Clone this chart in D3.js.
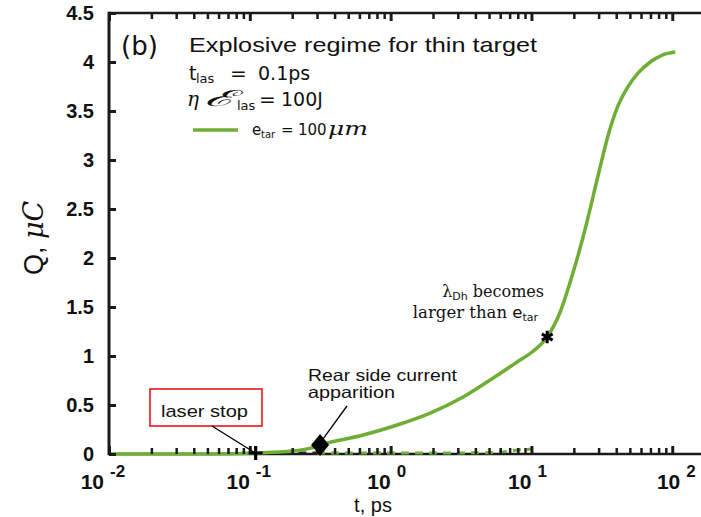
<!DOCTYPE html>
<html>
<head>
<meta charset="utf-8">
<script src="https://cdn.jsdelivr.net/npm/d3@7"></script>
<style>
  html, body { margin: 0; padding: 0; background: #fff; }
  svg { display: block; }
  text { font-family: "Liberation Sans", Arial, sans-serif; fill: #111; }
</style>
</head>
<body>
<svg id="chart" width="701" height="517"></svg>
<script>
// Collected charge Q (µC) versus time t (ps), thin target, explosive regime
const timePs = [0.01, 0.05, 0.11, 0.2, 0.27, 0.3155, 0.6375, 1.112, 1.909, 3.273, 5.09, 7.92, 10.1, 12.94, 16.0, 19.81, 24.49, 29.8, 35.1, 40.6, 47.9, 57.3, 69.8, 84.9, 105];
const chargeUC = [0.0, 0.0, 0.01, 0.03, 0.06, 0.092, 0.194, 0.296, 0.418, 0.582, 0.755, 0.939, 1.041, 1.194, 1.449, 1.857, 2.337, 2.847, 3.255, 3.531, 3.735, 3.888, 4.0, 4.071, 4.102];

// thick-target reference traces lying close to the axis
const flatTime = [0.3, 0.6, 1.0, 2.0, 4.0, 6.0, 8.0, 10.0];
const flatCharge = [0.01, 0.01, 0.01, 0.01, 0.012, 0.02, 0.04, 0.05];
const earlyTime = [0.14, 0.3];
const earlyCharge = [0.01, 0.01];

// annotated events
const laserStop = { t: 0.11, q: 0.01 };
const rearCurrent = { t: 0.3155, q: 0.092 };
const debyeEvent = { t: 12.94, q: 1.194 };

const yTicks = [0, 0.5, 1, 1.5, 2, 2.5, 3, 3.5, 4, 4.5];
const yTickLabels = ["0", "0.5", "1", "1.5", "2", "2.5", "3", "3.5", "4", "4.5"];
const xMajor = [0.01, 0.1, 1, 10, 100];
const xExponents = ["-2", "-1", "0", "1", "2"];

const green = "#6fae35";
const axisColor = "#1a1a1a";
const svg = d3.select("#chart");

const x = d3.scaleLog().domain([0.01, 160]).range([109, 701]);
const y = d3.scaleLinear().domain([0, 4.5]).range([454, 13]);

// minor ticks for each decade
const xMinor = [];
for (let e = -2; e <= 2; e++) {
  for (let m = 2; m <= 9; m++) {
    const v = m * Math.pow(10, e);
    if (v < 160) xMinor.push(v);
  }
}

// frame: left, bottom, top
svg.append("line").attr("x1", x(0.01)).attr("x2", 701).attr("y1", y(0)).attr("y2", y(0))
  .attr("stroke", axisColor).attr("stroke-width", 2.5);
svg.append("line").attr("x1", x(0.01)).attr("x2", 701).attr("y1", y(4.5)).attr("y2", y(4.5))
  .attr("stroke", axisColor).attr("stroke-width", 2.5);
svg.append("line").attr("x1", x(0.01)).attr("x2", x(0.01)).attr("y1", y(4.5) - 1.2).attr("y2", y(0) + 1.2)
  .attr("stroke", axisColor).attr("stroke-width", 3);

// y tick labels
svg.append("g").selectAll("text").data(yTicks).join("text")
  .attr("x", 94).attr("y", d => y(d) + 7)
  .attr("text-anchor", "end")
  .style("font-size", "20px").style("font-weight", "bold")
  .text((d, i) => yTickLabels[i]);

// x tick labels: 10 with raised exponent
const xl = svg.append("g");
xMajor.forEach((v, i) => {
  const px = x(v) + (i === 4 ? 8 : i === 0 ? -5 : 0);
  xl.append("text").attr("x", px).attr("y", 489).attr("text-anchor", "end")
    .style("font-size", "21px").style("font-weight", "bold").text("10");
  xl.append("text").attr("x", px + 6).attr("y", 477).attr("text-anchor", "start")
    .style("font-size", "17px").style("font-weight", "bold").text(xExponents[i]);
});

// axis titles
svg.append("text").attr("x", 373).attr("y", 512).attr("text-anchor", "middle")
  .style("font-size", "20px").text("t, ps");
const yTitle = svg.append("text").attr("transform", "translate(43,238) rotate(-90)")
  .attr("text-anchor", "middle").style("font-size", "27px");
yTitle.append("tspan").text("Q, ");
yTitle.append("tspan").style("font-style", "italic").style("font-family", "'DejaVu Serif', serif").text("μC");

// curves
const line = d3.line().x(d => x(d[0])).y(d => y(d[1])).curve(d3.curveMonotoneX);

svg.append("path").datum(flatTime.map((t, i) => [t, flatCharge[i]]))
  .attr("d", line).attr("fill", "none").attr("stroke", green).attr("stroke-width", 3)
  .attr("stroke-dasharray", "8,6");
svg.append("path").datum(earlyTime.map((t, i) => [t, earlyCharge[i]]))
  .attr("d", line).attr("fill", "none").attr("stroke", "#222").attr("stroke-width", 3)
  .attr("stroke-dasharray", "8,6");

svg.append("path").datum(timePs.map((t, i) => [t, chargeUC[i]]))
  .attr("d", line).attr("fill", "none").attr("stroke", green).attr("stroke-width", 3.5)
  .attr("stroke-linejoin", "round");

// inward tick marks drawn with d3 axes, no labels, no domain path
function drawTicks(axisFn, scale, values, size, width, transform) {
  const g = svg.append("g").attr("transform", transform)
    .call(axisFn(scale).tickValues(values).tickSizeInner(-size).tickSizeOuter(0).tickFormat(""));
  g.select(".domain").remove();
  g.selectAll(".tick line").attr("stroke", axisColor).attr("stroke-width", width);
  return g;
}
drawTicks(d3.axisBottom, x, xMajor, 8, 3, `translate(0,${y(0)})`);
drawTicks(d3.axisBottom, x, xMinor, 6, 2.5, `translate(0,${y(0)})`);
drawTicks(d3.axisTop, x, xMajor, 8, 3, `translate(0,${y(4.5)})`);
drawTicks(d3.axisTop, x, xMinor, 6, 2.5, `translate(0,${y(4.5)})`);
drawTicks(d3.axisLeft, y, yTicks, 7, 3, `translate(${x(0.01)},0)`);

// markers
const lsx = x(laserStop.t), lsy = y(laserStop.q);
svg.append("path").attr("d", `M${lsx - 7},${lsy}H${lsx + 7}M${lsx},${lsy - 7}V${lsy + 7}`)
  .attr("stroke", "#000").attr("stroke-width", 3.2);

const rx = x(rearCurrent.t), ry = y(rearCurrent.q);
svg.append("path").attr("d", `M${rx},${ry - 11}L${rx + 9},${ry}L${rx},${ry + 11}L${rx - 9},${ry}Z`)
  .attr("fill", "#000");

const ax = x(debyeEvent.t), ay = y(debyeEvent.q);
svg.append("path").attr("d", d3.symbol(d3.symbolAsterisk, 110)())
  .attr("transform", `translate(${ax},${ay})`)
  .attr("stroke", "#000").attr("stroke-width", 3).attr("fill", "none");

// annotations
svg.append("rect").attr("x", 150).attr("y", 389).attr("width", 112).attr("height", 37)
  .attr("fill", "#fff").attr("stroke", "#e8141b").attr("stroke-width", 1.6);
svg.append("text").attr("x", 161).attr("y", 417).style("font-size", "17px")
  .attr("textLength", 87).attr("lengthAdjust", "spacingAndGlyphs").text("laser stop");
svg.append("line").attr("x1", 212).attr("y1", 426).attr("x2", lsx - 2).attr("y2", lsy - 1)
  .attr("stroke", "#000").attr("stroke-width", 1.3);

svg.append("text").attr("x", 308).attr("y", 381).style("font-size", "16.5px")
  .attr("textLength", 149).attr("lengthAdjust", "spacingAndGlyphs").text("Rear side current");
svg.append("text").attr("x", 308).attr("y", 398).style("font-size", "16.5px")
  .attr("textLength", 87).attr("lengthAdjust", "spacingAndGlyphs").text("apparition");
svg.append("line").attr("x1", 347).attr("y1", 406).attr("x2", rx + 3).attr("y2", ry - 6)
  .attr("stroke", "#000").attr("stroke-width", 1.3);

const serif = "'DejaVu Serif', 'Liberation Serif', serif";
const sans = "'DejaVu Sans', sans-serif";
const l1 = svg.append("text").attr("x", 544).attr("y", 297).attr("text-anchor", "end")
  .style("font-size", "16px").style("font-family", serif);
l1.append("tspan").text("λ");
l1.append("tspan").attr("dy", 3).style("font-size", "11px").style("font-family", sans).text("Dh");
l1.append("tspan").attr("dy", -3).text(" becomes");
const l2 = svg.append("text").attr("x", 538).attr("y", 318).attr("text-anchor", "end")
  .style("font-size", "16.5px").style("font-family", serif);
l2.append("tspan").text("larger than ");
l2.append("tspan").style("font-family", sans).text("e");
l2.append("tspan").attr("dy", 3).style("font-size", "11px").style("font-family", sans).text("tar");

// panel label and header
svg.append("text").attr("x", 121).attr("y", 55).style("font-size", "26px")
  .style("font-family", sans).text("(b)");
svg.append("text").attr("x", 189).attr("y", 52).style("font-size", "21px")
  .attr("textLength", 348).attr("lengthAdjust", "spacingAndGlyphs")
  .text("Explosive regime for thin target");

// small helper for header pieces placed at fixed x positions
function piece(px, py, txt, size, family, italic) {
  return svg.append("text").attr("x", px).attr("y", py)
    .style("font-size", size + "px").style("font-family", family)
    .style("font-style", italic ? "italic" : "normal").text(txt);
}
piece(189, 80, "t", 19, sans);
piece(196, 83, "las", 13, sans);
piece(230, 80, "=", 20, sans);
piece(258, 80, "0.1ps", 19, sans);

piece(187, 106, "η", 20, serif, true);
piece(204, 106, "ℰ", 22, serif, true).attr("textLength", 30).attr("lengthAdjust", "spacingAndGlyphs");
piece(237, 110, "las", 13, sans);
piece(259, 106, "=", 20, sans);
piece(281, 106, "100J", 19, sans);

// legend
svg.append("line").attr("x1", 193).attr("x2", 238).attr("y1", 130).attr("y2", 130)
  .attr("stroke", green).attr("stroke-width", 3.5);
piece(252, 135, "e", 15, sans);
piece(261, 138, "tar", 10, sans);
piece(281, 135, "=", 15, sans);
piece(298, 135, "100", 15, sans);
piece(328, 135, "μm", 18, serif, true).attr("textLength", 40).attr("lengthAdjust", "spacingAndGlyphs");
</script>
</body>
</html>
